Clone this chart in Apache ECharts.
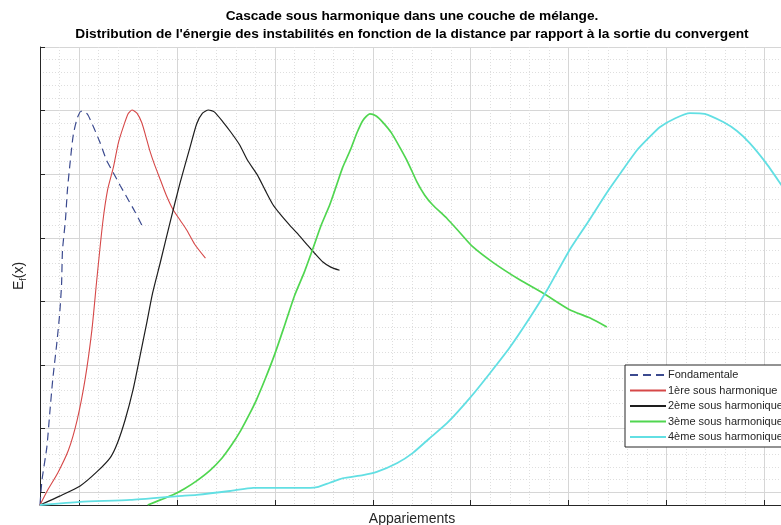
<!DOCTYPE html>
<html>
<head>
<meta charset="utf-8">
<script src="https://cdn.jsdelivr.net/npm/echarts@6/dist/echarts.min.js"></script>
<style>
  html, body { margin: 0; padding: 0; background: #fff; }
  #chart { width: 781px; height: 525px; }
</style>
</head>
<body>
<div id="chart"></div>
<script>
// x: one unit = one major grid step, y: arbitrary energy units
const fondX = [0, 0.02, 0.07, 0.10, 0.13, 0.17, 0.20, 0.22, 0.23, 0.26, 0.28, 0.31, 0.34, 0.38, 0.42, 0.45, 0.49, 0.55, 0.61, 0.68, 0.75, 0.82, 0.89, 0.97, 1.05]
const fondY = [0, 0.39, 0.91, 1.45, 1.97, 2.52, 2.99, 3.46, 4.01, 4.48, 4.95, 5.42, 5.82, 6.08, 6.19, 6.19, 6.13, 5.93, 5.71, 5.42, 5.22, 5.02, 4.83, 4.61, 4.37]

const sh1X = [0, 0.08, 0.18, 0.29, 0.38, 0.46, 0.53, 0.58, 0.64, 0.69, 0.75, 0.80, 0.85, 0.90, 0.94, 0.99, 1.04, 1.08, 1.12, 1.17, 1.23, 1.29, 1.36, 1.43, 1.50, 1.58, 1.69]
const sh1Y = [0, 0.24, 0.50, 0.86, 1.34, 1.97, 2.75, 3.54, 4.43, 4.95, 5.31, 5.69, 5.94, 6.15, 6.21, 6.16, 6.01, 5.80, 5.58, 5.35, 5.11, 4.87, 4.64, 4.48, 4.32, 4.10, 3.88]

const sh2X = [0, 0.20, 0.41, 0.58, 0.72, 0.79, 0.87, 0.95, 1.02, 1.09, 1.15, 1.23, 1.33, 1.43, 1.53, 1.60, 1.66, 1.72, 1.78, 1.87, 1.95, 2.04, 2.12, 2.22, 2.30, 2.38, 2.46, 2.55, 2.64, 2.73, 2.81, 2.89, 2.97, 3.06]
const sh2Y = [0, 0.14, 0.30, 0.52, 0.75, 0.97, 1.34, 1.81, 2.33, 2.86, 3.33, 3.82, 4.45, 5.06, 5.61, 5.99, 6.16, 6.21, 6.18, 6.02, 5.86, 5.66, 5.42, 5.19, 4.95, 4.72, 4.56, 4.40, 4.25, 4.09, 3.95, 3.82, 3.74, 3.69]

const sh3X = [1.10, 1.23, 1.36, 1.48, 1.60, 1.74, 1.86, 1.96, 2.05, 2.13, 2.21, 2.30, 2.40, 2.50, 2.60, 2.70, 2.79, 2.87, 2.96, 3.03, 3.09, 3.17, 3.24, 3.30, 3.37, 3.43, 3.50, 3.59, 3.68, 3.76, 3.85, 3.93, 4.01, 4.16, 4.29, 4.42, 4.63, 4.90, 5.14, 5.41, 5.62, 5.79]
const sh3Y = [0, 0.08, 0.16, 0.26, 0.38, 0.55, 0.74, 0.95, 1.17, 1.40, 1.65, 1.98, 2.38, 2.83, 3.29, 3.66, 4.04, 4.39, 4.72, 5.03, 5.30, 5.58, 5.86, 6.05, 6.15, 6.12, 6.02, 5.85, 5.61, 5.38, 5.08, 4.87, 4.72, 4.50, 4.28, 4.06, 3.81, 3.54, 3.33, 3.07, 2.94, 2.80]

const sh4X = [0, 0.41, 0.92, 1.41, 1.60, 1.94, 2.18, 2.45, 2.76, 2.83, 2.96, 3.09, 3.30, 3.44, 3.65, 3.81, 3.98, 4.16, 4.39, 4.60, 4.80, 5.01, 5.18, 5.41, 5.59, 5.79, 5.94, 6.10, 6.23, 6.33, 6.49, 6.64, 6.79, 6.98, 7.12, 7.25, 7.41, 7.56, 7.66]
const sh4Y = [0, 0.05, 0.08, 0.14, 0.16, 0.22, 0.27, 0.27, 0.27, 0.28, 0.35, 0.42, 0.47, 0.52, 0.66, 0.82, 1.05, 1.29, 1.68, 2.08, 2.48, 2.96, 3.38, 4.01, 4.43, 4.91, 5.24, 5.58, 5.79, 5.94, 6.08, 6.16, 6.15, 6.02, 5.88, 5.69, 5.39, 5.06, 4.83]

const seriesNames = ['Fondamentale', '1ère sous harmonique', '2ème sous harmonique', '3ème sous harmonique', '4ème sous harmonique']

// minor grid steps, used by the helper axes that draw the major grid lines and ticks
const xSteps = []
for (let i = 0; i <= 38; i++) xSteps.push(String(i))
const ySteps = []
for (let i = 0; i <= 36; i++) ySteps.push(String(i))

const pairs = (xs, ys) => xs.map((x, i) => [x, ys[i]])

const font = 'Liberation Sans, Arial, Helvetica, sans-serif'
const axisColor = '#262626'

const mkLine = (name, xs, ys, color, width, type) => ({
    name: name,
    type: 'line',
    data: pairs(xs, ys),
    symbol: 'none',
    smooth: 0.2,
    lineStyle: { color: color, width: width, type: type || 'solid' },
    itemStyle: { color: color }
})

let chart = echarts.init(document.getElementById('chart'), null, { renderer: 'canvas' })

let options = {
    animation: false,
    backgroundColor: '#fff',
    title: {
        text: 'Cascade sous harmonique dans une couche de mélange.\nDistribution de l\'énergie des instabilités en fonction de la distance par rapport à la sortie du convergent',
        left: 412,
        top: 7,
        padding: 0,
        textAlign: 'center',
        textStyle: {
            fontFamily: font,
            fontSize: 13.7,
            fontWeight: 'bold',
            color: '#000',
            lineHeight: 18
        }
    },
    legend: {
        orient: 'vertical',
        left: 625,
        top: 365,
        padding: [4, 6, 4, 4],
        itemWidth: 36,
        itemHeight: 10,
        itemGap: 3.5,
        backgroundColor: '#fff',
        borderColor: axisColor,
        borderWidth: 1,
        borderRadius: 0,
        itemStyle: { opacity: 0 },
        data: seriesNames,
        textStyle: {
            fontFamily: font,
            fontSize: 11,
            color: axisColor,
            lineHeight: 12,
            padding: [0, 0, 0, -3]
        }
    },
    grid: {
        left: 40,
        right: -3,
        top: 47,
        bottom: 20,
        containLabel: false,
        outerBoundsMode: 'none'
    },
    xAxis: [
        {
            type: 'value',
            min: 0,
            max: 7.6,
            interval: 0.2,
            position: 'bottom',
            name: 'Appariements',
            nameLocation: 'middle',
            nameGap: 7,
            nameTextStyle: { fontFamily: font, fontSize: 14, color: axisColor },
            axisLine: { show: true, lineStyle: { color: axisColor, width: 1 } },
            axisTick: { show: false },
            axisLabel: { show: false },
            splitLine: { show: true, lineStyle: { color: '#dedede', width: 1, type: [1, 2] } }
        },
        {
            type: 'category',
            data: xSteps,
            boundaryGap: false,
            position: 'bottom',
            axisLine: { show: false },
            axisTick: {
                show: true,
                inside: true,
                length: 5,
                interval: (i) => i % 5 === 2,
                lineStyle: { color: axisColor }
            },
            axisLabel: { show: false },
            splitLine: {
                show: true,
                interval: (i) => i % 5 === 2,
                lineStyle: { color: '#d6d6d6', width: 1 }
            }
        }
    ],
    yAxis: [
        {
            type: 'value',
            min: 0,
            max: 7.2,
            interval: 0.2,
            position: 'left',
            name: '{e|E}{s|f}{e|(x)}',
            nameLocation: 'middle',
            nameGap: 12,
            nameTextStyle: {
                color: axisColor,
                rich: {
                    e: { fontFamily: font, fontSize: 14, color: axisColor },
                    s: { fontFamily: font, fontSize: 9, color: axisColor, padding: [8, 0, 0, 0] }
                }
            },
            axisLine: { show: true, lineStyle: { color: axisColor, width: 1 } },
            axisTick: { show: false },
            axisLabel: { show: false },
            splitLine: { show: true, lineStyle: { color: '#dedede', width: 1, type: [1, 2] } }
        },
        {
            type: 'category',
            data: ySteps,
            boundaryGap: false,
            position: 'left',
            axisLine: { show: false },
            axisTick: {
                show: true,
                inside: true,
                length: 5,
                interval: (i) => i % 5 === 1,
                lineStyle: { color: axisColor }
            },
            axisLabel: { show: false },
            splitLine: {
                show: true,
                interval: (i) => i % 5 === 1,
                lineStyle: { color: '#d6d6d6', width: 1 }
            }
        }
    ],
    series: [
        mkLine(seriesNames[0], fondX, fondY, '#3b4a8f', 1.2, [8, 5]),
        mkLine(seriesNames[1], sh1X, sh1Y, '#d64848', 1.1),
        mkLine(seriesNames[2], sh2X, sh2Y, '#1e1e1e', 1.2),
        mkLine(seriesNames[3], sh3X, sh3Y, '#50d650', 1.7),
        mkLine(seriesNames[4], sh4X, sh4Y, '#62dfe3', 1.8)
    ]
}

chart.setOption(options)
</script>
</body>
</html>
